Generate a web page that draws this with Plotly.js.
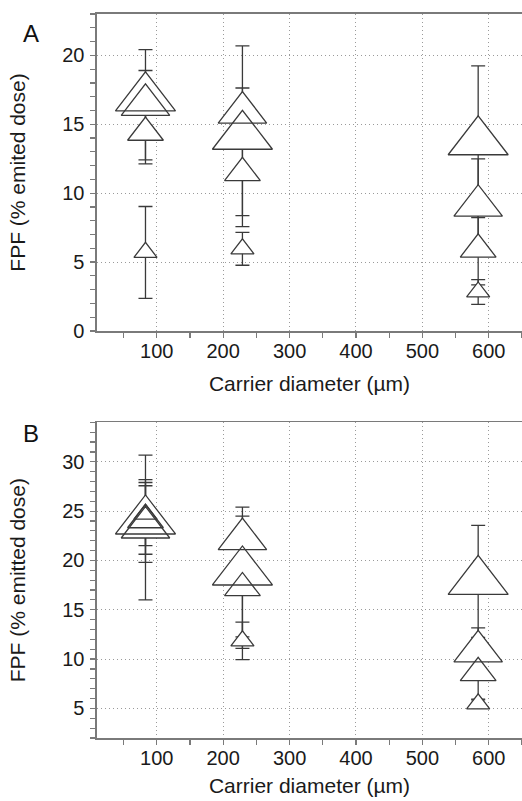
<!DOCTYPE html>
<html>
<head>
<meta charset="utf-8">
<script src="https://cdn.plot.ly/plotly-3.0.1.min.js"></script>
<style>html,body{margin:0;padding:0;background:#fff;}</style>
</head>
<body>
<div id="chart" style="width:522px;height:801px;"></div>
<script>
// ---- data ----
// carrier diameter (µm) for each point, 4 formulations per carrier
const carrierA = [83, 83, 83, 83, 229, 229, 229, 229, 584, 584, 584, 584];
const fpfA     = [16.92, 16.41, 14.40, 5.70, 14.13, 15.85, 11.47, 5.96, 13.73, 9.09, 5.92, 2.83];
const sdA      = [1.98, 4.00, 2.27, 3.33, 6.56, 1.78, 3.10, 1.19, 5.50, 3.40, 2.58, 0.90];

const carrierB = [83, 83, 83, 83, 229, 229, 229, 229, 584, 584, 584, 584];
const fpfB     = [24.00, 23.34, 24.10, 24.70, 18.83, 22.16, 17.21, 11.84, 17.88, 10.78, 8.60, 5.46];
const sdB      = [4.20, 7.34, 3.47, 3.20, 6.57, 2.34, 6.13, 1.90, 5.67, 2.39, 2.66, 0.40];

const xTickVals = [100, 200, 300, 400, 500, 600];
const yTickValsA = [0, 5, 10, 15, 20];
const yTickValsB = [5, 10, 15, 20, 25, 30];

// ---- styles ----
const formulationSize = [52, 42, 31, 20];
const sizesFor = n => Array.from({length: n}, (_, i) => formulationSize[i % 4]);

const LINE = '#3a3a3a';
const AXIS = '#7a7a7a';
const GRID = '#9a9a9a';
const FONT = 'Liberation Sans, Arial, Helvetica, sans-serif';

function panelTraces(xs, ys, errs, xa, ya) {
  const sizes = sizesFor(xs.length);
  return [
    { // white masks + error bars (error bars are drawn under markers)
      type: 'scatter', mode: 'markers', x: xs, y: ys, xaxis: xa, yaxis: ya,
      marker: {symbol: 'triangle-up', size: sizes, color: '#ffffff', opacity: 1, line: {width: 0}},
      error_y: {type: 'data', array: errs, visible: true, color: LINE, thickness: 1.3, width: 7},
      hoverinfo: 'skip', showlegend: false
    },
    { // outlines on top
      type: 'scatter', mode: 'markers', x: xs, y: ys, xaxis: xa, yaxis: ya,
      marker: {symbol: 'triangle-up', size: sizes, color: 'rgba(0,0,0,0)', opacity: 1, line: {width: 1.3, color: LINE}},
      showlegend: false
    }
  ];
}

const data = [
  ...panelTraces(carrierA, fpfA, sdA, 'x', 'y'),
  ...panelTraces(carrierB, fpfB, sdB, 'x2', 'y2')
];

function xAxis(anchor, standoff) {
  return {
    anchor: anchor, domain: [0, 1], range: [10, 650],
    tickmode: 'array', tickvals: xTickVals,
    ticks: 'outside', ticklen: 5, tickwidth: 1.2, tickcolor: AXIS,
    minor: {dtick: 50, tick0: 0, ticks: 'outside', ticklen: 5, tickwidth: 1.2, tickcolor: AXIS, showgrid: false},
    showgrid: true, gridcolor: GRID, griddash: '1px,3px', gridwidth: 1,
    showline: true, linecolor: AXIS, linewidth: 1.6, mirror: true,
    zeroline: false, automargin: false,
    ticklabelstandoff: -4,
    tickfont: {family: FONT, size: 20, color: '#1a1a1a'},
    title: {text: 'Carrier diameter (µm)', font: {family: FONT, size: 21, color: '#1a1a1a'}, standoff: standoff}
  };
}
function yAxis(anchor, domain, range, tickvals, title) {
  return {
    anchor: anchor, domain: domain, range: range,
    tickmode: 'array', tickvals: tickvals,
    ticks: 'outside', ticklen: 5, tickwidth: 1.2, tickcolor: AXIS,
    minor: {dtick: 1, tick0: 0, ticks: 'outside', ticklen: 5, tickwidth: 1.2, tickcolor: AXIS, showgrid: false},
    showgrid: true, gridcolor: GRID, griddash: '1px,3px', gridwidth: 1,
    showline: true, linecolor: AXIS, linewidth: 1.6, mirror: false,
    zeroline: false, automargin: false,
    ticklabelstandoff: 2,
    tickfont: {family: FONT, size: 20, color: '#1a1a1a'},
    title: {text: title, font: {family: FONT, size: 21, color: '#1a1a1a'}, standoff: 31}
  };
}

const layout = {
  width: 522, height: 801,
  margin: {l: 97, r: 0, t: 14, b: 63},
  paper_bgcolor: '#ffffff', plot_bgcolor: '#ffffff',
  font: {family: FONT, color: '#1a1a1a'},
  xaxis: xAxis('y', 16),
  yaxis: yAxis('x', [0.5622, 1], [0, 23], yTickValsA, 'FPF (% emited dose)'),
  xaxis2: xAxis('y2', 11),
  yaxis2: yAxis('x2', [0, 0.436], [2, 34], yTickValsB, 'FPF (% emitted dose)'),
  annotations: [
    {text: 'A', xref: 'paper', yref: 'paper', x: -0.155, y: 0.973, xanchor: 'center', yanchor: 'middle',
     showarrow: false, font: {family: FONT, size: 24, color: '#111'}},
    {text: 'B', xref: 'paper', yref: 'paper', x: -0.155, y: 0.4206, xanchor: 'center', yanchor: 'middle',
     showarrow: false, font: {family: FONT, size: 24, color: '#111'}}
  ],
  showlegend: false
};

Plotly.newPlot('chart', data, layout, {displayModeBar: false, staticPlot: true});
</script>
</body>
</html>
